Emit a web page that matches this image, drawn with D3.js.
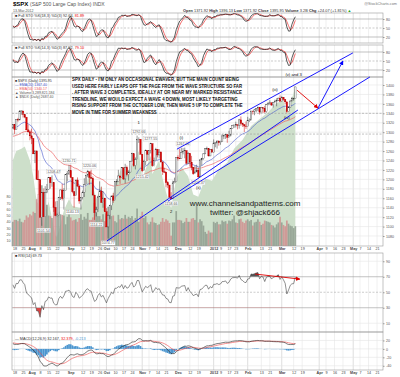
<!DOCTYPE html>
<html>
<head>
<meta charset="utf-8">
<script src="https://cdn.jsdelivr.net/npm/d3@7"></script>
<style>
  body { margin: 0; background: #fff; }
  svg { display: block; }
  text { font-family: Arial, "Liberation Sans", sans-serif; }
</style>
</head>
<body>
<div id="chart"></div>
<script>
// ---- Data: $SPX daily, 21 warm-up days (15-Jun..14-Jul-2011) then 15-Jul-2011 .. 13-Mar-2012 ----
const preDays = 21;
const high = [
  1286,1274,1280,1280,1298,1298,1286,1284,1284,1299,1309,1321,1341,1340,1340,1356,1353,1343,1327,1331,1327,
  1317.07,1315.42,1327.16,1330.43,1347.00,1346.10,1344.32,1338.51,1329.59,1316.32,1304.85,
  1307.38,1286.94,1261.20,1260.34,1218.94,1199.38,1172.88,1172.51,1185.53,1190.25,1204.49,1204.49,1208.47,1191.58,1153.29,1154.15,1162.35,1178.47,1190.68,1181.23,1210.29,1217.85,1230.71,
  1230.23,1203.24,1173.97,1198.62,1204.23,1185.90,1162.59,1176.41,1202.38,1209.11,1220.06,1216.01,1220.39,1206.29,1166.76,1141.72,1164.19,1195.86,1184.30,1175.09,1160.40,
  1138.99,1125.12,1146.07,1165.11,1171.40,1194.91,1200.54,1220.25,1207.46,1224.61,1224.72,1233.10,1229.29,1219.36,1239.03,1256.55,1254.19,1246.28,1292.66,1289.09,1284.74,
  1253.26,1241.41,1263.21,1261.15,1261.70,1277.55,1258.25,1246.22,1266.98,1263.85,1264.25,1259.61,1237.73,1224.70,1215.62,1196.81,1187.48,1172.66,1197.35,1203.67,1247.11,
  1251.09,1264.85,1267.06,1266.73,1267.41,1260.87,1258.25,1255.22,1249.86,1225.73,1228.87,1231.04,1224.57,1242.82,1245.60,1255.22,1265.42,1269.37,1265.85,1264.12,1264.73,
  1284.62,1278.73,1283.05,1282.84,1281.84,1296.46,1293.80,1296.82,1294.69,1303.00,1308.11,1315.49,1315.38,1322.28,1315.88,1328.30,1333.47,1320.06,1316.16,1322.85,
  1332.60,1329.19,1345.34,1344.36,1349.24,1351.00,1354.32,1351.43,1353.35,1351.84,1355.87,1359.90,1364.24,1367.76,1362.97,1364.24,1368.92,1371.94,1373.09,1378.04,
  1376.17,1374.53,1369.59,1363.63,1354.85,1368.72,1374.76,1373.04,1396.13
];
const low = [
  1262,1258,1267,1267,1277,1286,1262,1267,1267,1280,1296,1307,1318,1330,1330,1342,1334,1317,1313,1314,1306,
  1307.09,1295.92,1305.61,1322.10,1325.66,1336.95,1331.09,1329.59,1303.99,1299.16,1282.86,
  1274.73,1254.03,1234.56,1199.54,1168.09,1119.28,1101.54,1120.76,1121.09,1170.74,1178.86,1180.53,1184.36,1131.04,1122.05,1121.48,1123.99,1156.30,1155.47,1135.91,1179.42,1195.46,1209.35,
  1203.40,1170.56,1140.13,1165.24,1183.34,1148.37,1136.07,1157.44,1162.73,1189.20,1204.46,1188.59,1201.19,1166.45,1114.22,1121.36,1131.07,1163.43,1150.31,1139.93,1131.34,
  1098.92,1074.77,1115.68,1134.95,1150.26,1158.67,1187.05,1196.36,1190.58,1203.64,1198.55,1191.48,1206.31,1197.34,1215.39,1238.43,1226.79,1221.06,1242.48,1277.31,1253.16,
  1215.42,1218.28,1229.70,1238.82,1240.75,1254.99,1226.64,1227.70,1240.37,1246.68,1244.34,1235.67,1209.43,1213.16,1183.16,1181.65,1161.79,1158.66,1178.00,1191.80,1196.72,
  1239.73,1242.82,1244.34,1253.03,1244.80,1231.47,1234.35,1227.25,1219.43,1209.47,1212.36,1215.20,1202.37,1205.40,1229.51,1241.77,1254.00,1262.30,1248.64,1249.64,1257.62,
  1258.04,1268.10,1265.26,1271.47,1273.34,1280.70,1285.41,1285.77,1277.58,1290.99,1290.99,1308.11,1309.17,1309.89,1306.06,1307.65,1313.60,1311.22,1300.49,1306.65,
  1314.05,1321.57,1328.13,1337.52,1335.92,1341.95,1344.63,1337.35,1343.78,1340.73,1340.80,1341.22,1357.04,1358.11,1355.53,1352.28,1363.94,1354.92,1365.97,1363.81,
  1365.68,1366.42,1359.13,1340.03,1343.36,1352.72,1365.91,1366.69,1371.92
];
const close = [
  1265.42,1267.64,1271.50,1278.36,1295.52,1287.14,1283.50,1268.45,1280.10,1296.67,1307.41,1320.64,1339.67,1337.88,1339.22,1353.22,1343.80,1319.49,1313.64,1317.72,1308.87,
  1316.14,1305.44,1326.73,1325.84,1343.80,1345.02,1337.43,1331.94,1304.89,1300.67,1292.28,
  1286.94,1254.05,1260.34,1200.07,1199.38,1119.46,1172.53,1120.76,1172.64,1178.81,1204.49,1192.76,1193.89,1140.65,1123.53,1123.82,1162.35,1177.60,1159.27,1176.80,1210.08,1212.92,1218.89,
  1204.42,1173.97,1165.24,1198.62,1185.90,1154.23,1162.27,1172.87,1188.68,1209.11,1216.01,1204.09,1202.09,1166.76,1129.56,1136.43,1162.95,1175.38,1151.06,1160.40,1131.42,
  1099.23,1123.95,1144.03,1164.97,1155.46,1194.89,1195.54,1207.25,1203.66,1224.58,1200.86,1225.38,1209.88,1215.39,1238.25,1254.19,1229.05,1242.00,1284.59,1285.09,1253.30,
  1218.28,1237.90,1261.15,1253.23,1261.12,1275.92,1229.10,1239.69,1263.85,1251.78,1257.81,1236.91,1216.13,1215.65,1192.98,1188.04,1161.79,1158.67,1192.55,1195.19,1246.96,
  1244.58,1244.28,1257.08,1258.47,1261.01,1234.35,1255.19,1236.47,1225.73,1211.82,1215.75,1219.66,1205.35,1241.30,1243.72,1254.00,1265.33,1265.43,1249.64,1263.02,1257.60,
  1277.06,1277.30,1281.06,1277.81,1280.70,1292.08,1292.48,1295.50,1289.09,1293.67,1308.04,1314.50,1315.38,1316.00,1314.65,1326.06,1318.43,1316.33,1313.01,1312.41,
  1324.09,1325.54,1344.90,1344.33,1347.05,1349.96,1351.95,1342.64,1351.77,1350.50,1343.23,1358.04,1361.23,1362.21,1357.66,1363.46,1365.74,1367.59,1372.18,1365.68,
  1374.09,1369.63,1364.33,1343.36,1352.63,1365.91,1370.87,1371.09,1395.95
];
// volume, billions of shares, chart days only
const volume = [
  4.0,4.3,4.3,4.1,4.5,4.0,3.9,4.3,5.0,4.7,5.2,
  5.0,5.6,5.4,7.6,8.4,10.0,9.8,9.3,8.6,6.7,5.0,4.9,4.6,6.4,6.2,5.3,5.6,5.2,5.1,5.0,3.6,4.8,5.3,
  4.7,4.2,4.3,4.4,4.0,4.6,5.2,4.3,4.8,4.5,5.4,4.3,4.3,4.7,7.0,6.4,4.9,4.9,4.4,5.2,4.1,
  5.3,6.4,5.2,4.9,5.0,4.1,3.9,5.1,4.4,4.6,4.5,5.1,4.5,4.8,4.6,4.9,4.3,4.6,6.1,4.0,4.9,
  5.6,4.6,4.9,3.9,3.6,4.0,4.7,3.9,3.8,3.5,3.6,4.0,4.6,4.0,4.4,4.2,3.8,1.8,3.9,3.9,5.7,
  4.3,4.3,4.2,3.8,4.0,4.6,4.0,4.0,4.5,4.6,4.3,6.5,3.9,4.4,4.1,3.4,2.4,2.1,2.6,2.3,2.3,
  4.0,3.8,4.0,3.6,3.6,4.2,4.0,4.1,3.7,4.2,4.1,4.4,5.0,3.9,3.8,4.4,4.5,4.0,3.8,4.2,
  4.4,4.1,4.3,3.4,3.9,4.0,4.4,4.0,3.5,3.7,4.2,4.1,4.0,3.9,3.5,3.4,3.1,3.6,3.9,4.8,
  3.9,3.5,3.3,4.2,3.7,3.4,3.3,3.0,3.3
];
// overlay ($NDX) at selected trading days
const overlayIdx = [0,2,5,7,10,12,14,15,16,17,18,19,20,21,24,25,26,30,33,35,40,45,49,52,54,55,56,60,64,68,74,75,76,81,82,86,88,90,93,96,99,103,106,109,113,117,121,126,130,135,140,145,150,155,159,161,164,166];
const overlayVal = [2370,2410,2420,2430,2370,2300,2190,2180,2040,2140,2060,2140,2160,2190,2080,2040,2035,2150,2200,2170,2160,2320,2200,2260,2150,2090,2130,2260,2340,2320,2410,2350,2290,2390,2310,2370,2290,2230,2160,2290,2340,2300,2220,2210,2290,2280,2330,2360,2420,2460,2520,2550,2580,2620,2630,2570,2640,2690];

// x axis: trading-day index (0 = 15-Jul-2011) and labels
const tickIdx = [1,6,11,16,21,26,34,41,46,51,55,60,65,70,76,80,85,90,97,104,109,118,122,127,131,138,146,151,158,165,170,180,184,189,194,200,204,209,214];
const tickLabels = ['18','25','Aug','8','15','22','Sep','12','19','26','Oct','10','17','24','Nov','7','14','21','Dec','12','19','2012','9','17','23','Feb','13','21','Mar','12','19','Apr','9','16','23','May','7','14','21'];
const monthLabels = ['Aug','Sep','Oct','Nov','Dec','2012','Feb','Mar','Apr','May'];
const priceTicks = [1080,1100,1120,1140,1160,1180,1200,1220,1240,1260,1280,1300,1320,1340,1360,1380,1400];
const volTicks = [1,2,3,4,5,6,7,8];
const stoTicks = [20,50,80];
const rsiTicks = [10,30,50,70,90];
const macdTicks = [-40,-20,0,20];

// price labels on swing points: [day index, value, above?]
const swingLabels = [
  [18,1101.54,false],[24,1208.47,true],[33,1230.71,true],[35,1140.13,false],[45,1220.06,true],
  [49,1114.22,false],[56,1074.77,false],[74,1292.66,true],[81,1277.55,true],[76,1215.42,false],
  [93,1158.66,false],[100,1267.06,true],[109,1202.37,false]
];
// wave labels: [day index, price, text]
const waveLabels = [
  [74,1318,'1'],[93,1128,'2'],[99,1285,'(i)'],[109,1180,'(ii)'],[154,1388,'(iii)'],[161,1327,'(iv)'],[165,1420,'(v) and 3']
];
// hand drawn trendlines in (day index, price)
const trendLines = [
  [[96.4,1264],[199.8,1468]],
  [[55.3,1069.5],[167.5,1347]],
  [[91.2,1154],[209.8,1417]]
];
const blueArrows = [[[179.3,1351],[194,1451]]];
const redArrows = [[[167,1389],[179.3,1351]]];
const rsiArrow = [[142.3,73.5],[168.7,67]];

const noteLines = [
  "SPX DAILY - I'M ONLY AN OCCASIONAL EWAVER, BUT THE MAIN COUNT BEING",
  "USED HERE FAIRLY LEAPS OFF THE PAGE FROM THE WAVE STRUCTURE SO FAR",
  ". AFTER WAVE 3 COMPLETES, IDEALLY AT OR NEAR MY MARKED RESISTANCE",
  "TRENDLINE, WE WOULD EXPECT A WAVE 4 DOWN, MOST LIKELY TARGETING",
  "RISING SUPPORT FROM THE OCTOBER LOW, THEN WAVE 5 UP TO COMPLETE THE",
  "MOVE IN TIME FOR SUMMER WEAKNESS"
];
const noteWidths = [167, 170, 170, 166, 171, 85];

// ---- indicators ----
function ema(arr, n) {
  const k = 2 / (n + 1), out = [];
  arr.forEach((v, i) => out.push(i === 0 ? v : v * k + out[i - 1] * (1 - k)));
  return out;
}
function sma(arr, n) {
  return arr.map((v, i) => {
    if (i < n - 1) return null;
    const w = arr.slice(i - n + 1, i + 1);
    return w.some(d => d == null) ? null : d3.mean(w);
  });
}
function fullSto(len) {
  const fastK = close.map((c, i) => {
    if (i < len - 1) return null;
    const hh = d3.max(high.slice(i - len + 1, i + 1));
    const ll = d3.min(low.slice(i - len + 1, i + 1));
    return 100 * (c - ll) / (hh - ll);
  });
  const k = sma(fastK, 3);
  return { k, d: sma(k, 3) };
}
function rsi(n) {
  const out = close.map(() => null);
  let ag = 0, al = 0;
  for (let i = 1; i < close.length; i++) {
    const ch = close[i] - close[i - 1];
    const g = Math.max(ch, 0), l = Math.max(-ch, 0);
    if (i <= n) { ag += g / n; al += l / n; if (i === n) out[i] = 100 - 100 / (1 + ag / al); }
    else { ag = (ag * (n - 1) + g) / n; al = (al * (n - 1) + l) / n; out[i] = 100 - 100 / (1 + ag / al); }
  }
  return out;
}
const ema20 = ema(close, 20), ema50 = ema(close, 50);
const sto1 = fullSto(18), sto2 = fullSto(14);
const rsi14 = rsi(14);
const e12 = ema(close, 12), e26 = ema(close, 26);
const macd = close.map((c, i) => e12[i] - e26[i]);
const signal = ema(macd, 9);
const hist = macd.map((m, i) => m - signal[i]);

const series = arr => d3.range(preDays, close.length).map(i => ({ i: i - preDays, v: arr[i] }));

// ---- layout ----
const W = 400, H = 377, L = 12, R = 383;
const panels = {
  sto1: [13, 43], sto2: [45, 77], price: [77, 246], rsi: [253, 332], macd: [332, 370]
};
const x = d3.scaleLinear().domain([-0.5, 217.5]).range([L, R]);
const dx = x(1) - x(0);
const yPrice = d3.scaleLinear().domain([1080, 1400]).range([236, 85]);
const yVol = d3.scaleLinear().domain([0, 8]).range([247, 196.6]);
const yOver = d3.scaleLinear().domain([1995, 2734]).range([246, 77]);
const ySto1 = d3.scaleLinear().domain([0, 100]).range([43, 13]);
const ySto2 = d3.scaleLinear().domain([0, 100]).range([76, 46]);
const yRsi = d3.scaleLinear().domain([0, 100]).range([331, 253.5]);
const yMacd = d3.scaleLinear().domain([-50, 40]).range([370, 332]);

const svg = d3.select('#chart').append('svg').attr('width', W).attr('height', H)
  .style('background', '#fff');

const defs = svg.append('defs');
Object.entries(panels).forEach(([k, [t, b]]) => {
  defs.append('clipPath').attr('id', 'clip-' + k)
    .append('rect').attr('x', L).attr('y', t).attr('width', R - L).attr('height', b - t);
});
[['arrow-red', '#e00000'], ['arrow-blue', '#0000ff']].forEach(([id, c]) => {
  defs.append('marker').attr('id', id).attr('viewBox', '0 0 10 10').attr('refX', 9).attr('refY', 5)
    .attr('markerWidth', 5).attr('markerHeight', 5).attr('orient', 'auto')
    .append('path').attr('d', 'M0,0 L10,5 L0,10 z').attr('fill', c);
});

// ---- grid ----
function vGrid(key) {
  const [t, b] = panels[key];
  svg.append('g').selectAll('line').data(tickIdx).enter().append('line')
    .attr('x1', d => x(d)).attr('x2', d => x(d)).attr('y1', t).attr('y2', b)
    .attr('stroke', (d, i) => monthLabels.includes(tickLabels[i]) ? '#c8c8c8' : '#e6e6e6')
    .attr('stroke-width', 0.6);
}
function hGrid(scale, vals, key, color = '#e6e6e6', dash = null) {
  svg.append('g').selectAll('line').data(vals).enter().append('line')
    .attr('x1', L).attr('x2', R).attr('y1', d => scale(d)).attr('y2', d => scale(d))
    .attr('stroke', color).attr('stroke-width', 0.6).attr('stroke-dasharray', dash);
}
Object.keys(panels).forEach(vGrid);
hGrid(yPrice, priceTicks, 'price');
hGrid(yRsi, [10, 90], 'rsi');
hGrid(yMacd, macdTicks, 'macd');

// ---- price panel ----
const bars = d3.range(preDays, close.length).map(i => ({
  i: i - preDays, h: high[i], l: low[i], c: close[i], o: close[i - 1], v: volume[i - preDays]
}));
const gPrice = svg.append('g').attr('clip-path', 'url(#clip-price)');

// overlay area
const over = overlayIdx.map((d, k) => ({ i: d, v: overlayVal[k] }));
gPrice.append('path').datum(over)
  .attr('d', d3.area().x(d => x(d.i)).y0(panels.price[1]).y1(d => yOver(d.v)))
  .attr('fill', '#cddfca');

// dashed reference lines
hGrid(yPrice, [1340, 1296], 'price', '#999', '2,1.5');

// volume
gPrice.append('g').selectAll('rect').data(bars).enter().append('rect')
  .attr('x', d => x(d.i) - dx / 2).attr('width', dx)
  .attr('y', d => yVol(d.v)).attr('height', d => yVol(0) - yVol(d.v))
  .attr('fill', d => d.c < d.o ? '#cf8f8f' : '#8f9e8f').attr('opacity', 0.85);

// moving averages
const lineOf = (scale) => d3.line().defined(d => d.v != null).x(d => x(d.i)).y(d => scale(d.v));
gPrice.append('path').datum(series(ema50)).attr('d', lineOf(yPrice))
  .attr('fill', 'none').attr('stroke', '#ee6666').attr('stroke-width', 0.7);
gPrice.append('path').datum(series(ema20)).attr('d', lineOf(yPrice))
  .attr('fill', 'none').attr('stroke', '#4455cc').attr('stroke-width', 0.6);

// candles
const gC = gPrice.append('g');
gC.selectAll('line').data(bars).enter().append('line')
  .attr('x1', d => x(d.i)).attr('x2', d => x(d.i))
  .attr('y1', d => yPrice(d.h)).attr('y2', d => yPrice(d.l))
  .attr('stroke', d => d.c < d.o ? '#cc0000' : '#333').attr('stroke-width', 0.5);
gC.selectAll('rect').data(bars).enter().append('rect')
  .attr('x', d => x(d.i) - dx * 0.42).attr('width', dx * 0.84)
  .attr('y', d => yPrice(Math.max(d.o, d.c)))
  .attr('height', d => Math.max(0.5, Math.abs(yPrice(d.o) - yPrice(d.c))))
  .attr('fill', d => d.c < d.o ? '#dd0000' : '#fff')
  .attr('stroke', d => d.c < d.o ? '#aa0000' : '#333').attr('stroke-width', 0.35);

// swing labels
const gL = svg.append('g');
swingLabels.forEach(([i, v, up]) => {
  const cx = x(i), cy = yPrice(v) + (up ? -4 : 4.5);
  gL.append('rect').attr('x', cx - 7).attr('y', cy - 2.2).attr('width', 14).attr('height', 4.4)
    .attr('fill', '#fff').attr('stroke', '#bbb').attr('stroke-width', 0.3);
  gL.append('text').attr('x', cx).attr('y', cy + 1.3).attr('text-anchor', 'middle')
    .attr('font-size', 3.6).attr('fill', '#555').text(v.toFixed(2));
});
waveLabels.forEach(([i, v, t]) => {
  gL.append('text').attr('x', x(i)).attr('y', yPrice(v)).attr('text-anchor', 'middle')
    .attr('font-size', 4.2).attr('fill', '#111').text(t);
});

// ---- stochastics ----
function stoPanel(key, scale, st, label, kv, dv) {
  const [t, b] = panels[key];
  hGrid(scale, [80, 20], key, '#999');
  hGrid(scale, [50], key, '#aaa', '2,1.5');
  const g = svg.append('g').attr('clip-path', `url(#clip-${key})`);
  g.append('path').datum(series(st.d)).attr('d', lineOf(scale))
    .attr('fill', 'none').attr('stroke', '#ee3333').attr('stroke-width', 0.7);
  g.append('path').datum(series(st.k)).attr('d', lineOf(scale))
    .attr('fill', 'none').attr('stroke', '#111').attr('stroke-width', 0.7);
  const tx = svg.append('text').attr('x', L + 3).attr('y', t + 3.6).attr('font-size', 3.8).attr('fill', '#333');
  tx.append('tspan').text('\u25A0 ' + label + ' ' + kv + ', ');
  tx.append('tspan').attr('fill', '#e00').text(dv);
}
stoPanel('sto1', ySto1, sto1, 'Full STO %K(18,3) %D(3)', '92.64', '81.89');
stoPanel('sto2', ySto2, sto2, 'Full STO %K(14,3) %D(3)', '87.92', '79.10');

// ---- RSI ----
hGrid(yRsi, [70, 30], 'rsi', '#999');
hGrid(yRsi, [50], 'rsi', '#aaa', '2,1.5');
defs.append('clipPath').attr('id', 'rsi-lo').append('rect')
  .attr('x', L).attr('y', yRsi(30)).attr('width', R - L).attr('height', yRsi(0) - yRsi(30));
defs.append('clipPath').attr('id', 'rsi-hi').append('rect')
  .attr('x', L).attr('y', yRsi(100)).attr('width', R - L).attr('height', yRsi(70) - yRsi(100));
const rsiS = series(rsi14);
svg.append('path').datum(rsiS).attr('clip-path', 'url(#rsi-lo)')
  .attr('d', d3.area().x(d => x(d.i)).y0(yRsi(30)).y1(d => yRsi(d.v))).attr('fill', '#dd4444');
svg.append('path').datum(rsiS).attr('clip-path', 'url(#rsi-hi)')
  .attr('d', d3.area().x(d => x(d.i)).y0(yRsi(70)).y1(d => yRsi(d.v))).attr('fill', '#555');
svg.append('path').datum(rsiS).attr('d', lineOf(yRsi))
  .attr('fill', 'none').attr('stroke', '#444').attr('stroke-width', 0.6);
svg.append('text').attr('x', L + 3).attr('y', panels.rsi[0] + 3.6).attr('font-size', 3.8).attr('fill', '#333')
  .text('\u25A0 RSI(14) 69.73');

// ---- MACD ----
const gM = svg.append('g').attr('clip-path', 'url(#clip-macd)');
gM.append('g').selectAll('rect').data(series(hist)).enter().append('rect')
  .attr('x', d => x(d.i) - dx / 2).attr('width', dx)
  .attr('y', d => Math.min(yMacd(0), yMacd(d.v))).attr('height', d => Math.abs(yMacd(d.v) - yMacd(0)))
  .attr('fill', '#4a95cf');
gM.append('path').datum(series(signal)).attr('d', lineOf(yMacd))
  .attr('fill', 'none').attr('stroke', '#ee4444').attr('stroke-width', 0.6);
gM.append('path').datum(series(macd)).attr('d', lineOf(yMacd))
  .attr('fill', 'none').attr('stroke', '#222').attr('stroke-width', 0.6);
const mt = svg.append('text').attr('x', L + 3).attr('y', panels.macd[0] + 7.5).attr('font-size', 3.8).attr('fill', '#333');
mt.append('tspan').text('\u2014 MACD(12,26,9) 32.167, ');
mt.append('tspan').attr('fill', '#e00').text('32.379, ');
mt.append('tspan').attr('fill', '#4a95cf').text('-0.213');

// ---- frames ----
Object.values(panels).forEach(([t, b]) => {
  svg.append('rect').attr('x', L).attr('y', t).attr('width', R - L).attr('height', b - t)
    .attr('fill', 'none').attr('stroke', '#999').attr('stroke-width', 0.6);
});

// ---- axes ----
function rightAxis(scale, vals, fmt = d => d) {
  const g = svg.append('g').attr('transform', `translate(${R},0)`)
    .call(d3.axisRight(scale).tickValues(vals).tickSize(1.5).tickFormat(fmt));
  g.select('.domain').remove();
  g.selectAll('line').attr('stroke', '#999');
  g.selectAll('text').attr('font-size', 3.6).attr('fill', '#555').attr('x', 3);
}
rightAxis(ySto1, stoTicks);
rightAxis(ySto2, stoTicks);
rightAxis(yPrice, priceTicks);
rightAxis(yRsi, rsiTicks);
rightAxis(yMacd, macdTicks);
const va = svg.append('g').attr('transform', `translate(${L},0)`)
  .call(d3.axisLeft(yVol).tickValues(volTicks).tickSize(0).tickFormat(d => d * 10));
va.select('.domain').remove();
va.selectAll('text').attr('font-size', 3.6).attr('fill', '#555').attr('x', -1.5);

function bottomAxis(y) {
  const g = svg.append('g').attr('transform', `translate(0,${y})`)
    .call(d3.axisBottom(x).tickValues(tickIdx).tickSize(0).tickFormat((d, i) => tickLabels[i]));
  g.select('.domain').remove();
  g.selectAll('text').attr('font-size', 3.7).attr('fill', '#444').attr('y', 1)
    .attr('font-weight', (d, i) => monthLabels.includes(tickLabels[i]) ? 'bold' : 'normal');
}
bottomAxis(246.5);
bottomAxis(370.5);

// ---- legend in price panel ----
const legend = [
  ['\u25A0 $SPX (Daily) 1395.95', '#333'],
  ['\u2014 EMA(20) 1367.40', '#4455cc'],
  ['\u2014 EMA(50) 1340.17', '#ee5555'],
  ['\u25B2 Volume 3,289,821,184', '#555'],
  ['\u25B2 $NDX (Daily) 2687.40', '#555']
];
legend.forEach(([t, c], k) => {
  svg.append('text').attr('x', L + 3).attr('y', 82 + k * 4).attr('font-size', 3.5).attr('fill', c).text(t);
});

// ---- trendlines and arrows ----
const gA = svg.append('g');
trendLines.forEach(([a, b]) => {
  gA.append('line').attr('x1', x(a[0])).attr('y1', yPrice(a[1])).attr('x2', x(b[0])).attr('y2', yPrice(b[1]))
    .attr('stroke', '#0000ff').attr('stroke-width', 0.9);
});
blueArrows.forEach(([a, b]) => {
  gA.append('line').attr('x1', x(a[0])).attr('y1', yPrice(a[1])).attr('x2', x(b[0])).attr('y2', yPrice(b[1]))
    .attr('stroke', '#0000ff').attr('stroke-width', 0.9).attr('marker-end', 'url(#arrow-blue)');
});
redArrows.forEach(([a, b]) => {
  gA.append('line').attr('x1', x(a[0])).attr('y1', yPrice(a[1])).attr('x2', x(b[0])).attr('y2', yPrice(b[1]))
    .attr('stroke', '#e00000').attr('stroke-width', 0.9).attr('marker-end', 'url(#arrow-red)');
});
gA.append('line').attr('x1', x(rsiArrow[0][0])).attr('y1', yRsi(rsiArrow[0][1]))
  .attr('x2', x(rsiArrow[1][0])).attr('y2', yRsi(rsiArrow[1][1]))
  .attr('stroke', '#e00000').attr('stroke-width', 0.9).attr('marker-end', 'url(#arrow-red)');

// ---- commentary (condensed horizontally to the width it takes in the picture) ----
noteLines.forEach((t, k) => {
  const tx = svg.append('text').attr('x', 0).attr('y', 0).attr('font-size', 5.2).attr('font-weight', 'bold')
    .attr('fill', '#111').text(t);
  const sx = noteWidths[k] / tx.node().getComputedTextLength();
  tx.attr('transform', `translate(72,${81 + k * 6.5}) scale(${sx},1)`);
});
svg.append('text').attr('x', 245).attr('y', 206).attr('text-anchor', 'middle').attr('font-size', 8)
  .attr('fill', '#222').text('www.channelsandpatterns.com');
svg.append('text').attr('x', 245).attr('y', 215).attr('text-anchor', 'middle').attr('font-size', 8)
  .attr('fill', '#222').text('twitter: @shjack666');

// ---- header ----
const t1 = svg.append('text').attr('x', L + 1).attr('y', 6).attr('font-size', 5).attr('fill', '#555');
t1.append('tspan').attr('font-weight', 'bold').attr('font-size', 6).attr('fill', '#000').text('$SPX ');
t1.append('tspan').text('(S&P 500 Large Cap Index) INDX');
svg.append('text').attr('x', L + 1).attr('y', 11.5).attr('font-size', 3.6).attr('fill', '#555').text('13-Mar-2012');
svg.append('text').attr('x', 397).attr('y', 5).attr('text-anchor', 'end').attr('font-size', 3.8)
  .attr('fill', '#777').text('@StockCharts.com');
const hd = svg.append('text').attr('x', 0).attr('y', 0).attr('font-size', 3.9).attr('fill', '#333');
[['Open', ' 1371.92 '], ['High', ' 1396.13 '], ['Low', ' 1371.92 '], ['Close', ' 1395.95 '],
 ['Volume', ' 3.2B '], ['Chg', ' +24.07 (+1.81%) ']].forEach(([a, b]) => {
  hd.append('tspan').attr('font-weight', 'bold').text(a);
  hd.append('tspan').text(b);
});
hd.append('tspan').attr('fill', '#2a2').text('\u25B2');
const hsx = 212 / hd.node().getComputedTextLength();
hd.attr('transform', `translate(183,11.5) scale(${Math.min(1, hsx)},1)`);
</script>
</body>
</html>
